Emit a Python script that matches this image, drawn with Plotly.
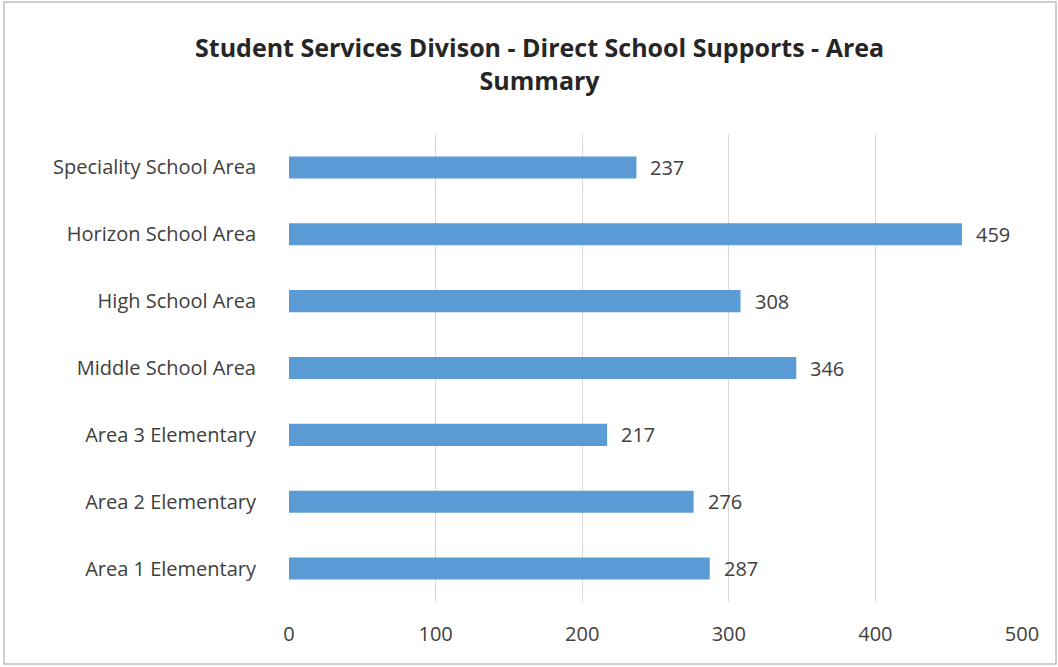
import plotly.graph_objects as go

categories = ["Area 1 Elementary", "Area 2 Elementary", "Area 3 Elementary",
              "Middle School Area", "High School Area", "Horizon School Area",
              "Speciality School Area"]
values = [287, 276, 217, 346, 308, 459, 237]
x_ticks = [0, 100, 200, 300, 400, 500]

W, H = 1058, 667
L, R, T, B = 289, 36, 134, 65
pw, ph = W - L - R, H - T - B
FONT = "Open Sans"

fig = go.Figure(go.Bar(
    y=categories, x=values, orientation="h",
    marker=dict(color="#5B9BD5", line=dict(color="#5B9BD5", width=0)),
    width=0.33,
    hoverinfo="x+y",
))

for c, v in zip(categories, values):
    fig.add_annotation(x=v, y=c, xref="x", yref="y", text=str(v),
                       showarrow=False, xanchor="left", yanchor="middle",
                       xshift=12, yshift=0,
                       font=dict(family=FONT, size=20, color="#404040"))

fig.update_layout(
    width=W, height=H,
    margin=dict(l=L, r=R, t=T, b=B),
    paper_bgcolor="white", plot_bgcolor="white",
    title=dict(text="<b>Student Services Divison - Direct School Supports - Area<br>Summary</b>",
               x=0.51, xanchor="center", y=1 - 57 / H, yanchor="middle",
               font=dict(family=FONT, size=25, color="#262626")),
    xaxis=dict(range=[0, 500], tickvals=x_ticks, showgrid=True, gridcolor="#D9D9D9",
               gridwidth=1, zeroline=False, showline=False, ticks="",
               tickfont=dict(family=FONT, size=20, color="#404040"),
               ticklabelstandoff=18),
    yaxis=dict(showgrid=False, zeroline=False, showline=False, ticks="",
               tickfont=dict(family=FONT, size=20, color="#404040"),
               ticklabelstandoff=32),
    showlegend=False,
    shapes=[dict(type="rect", xref="paper", yref="paper",
                 x0=(4 - L) / pw, x1=(W - 2 - L) / pw,
                 y0=-(B - 3) / ph, y1=1 + (T - 2) / ph,
                 line=dict(color="#BFBFBF", width=1.5))],
)

fig.write_html("out.html")
